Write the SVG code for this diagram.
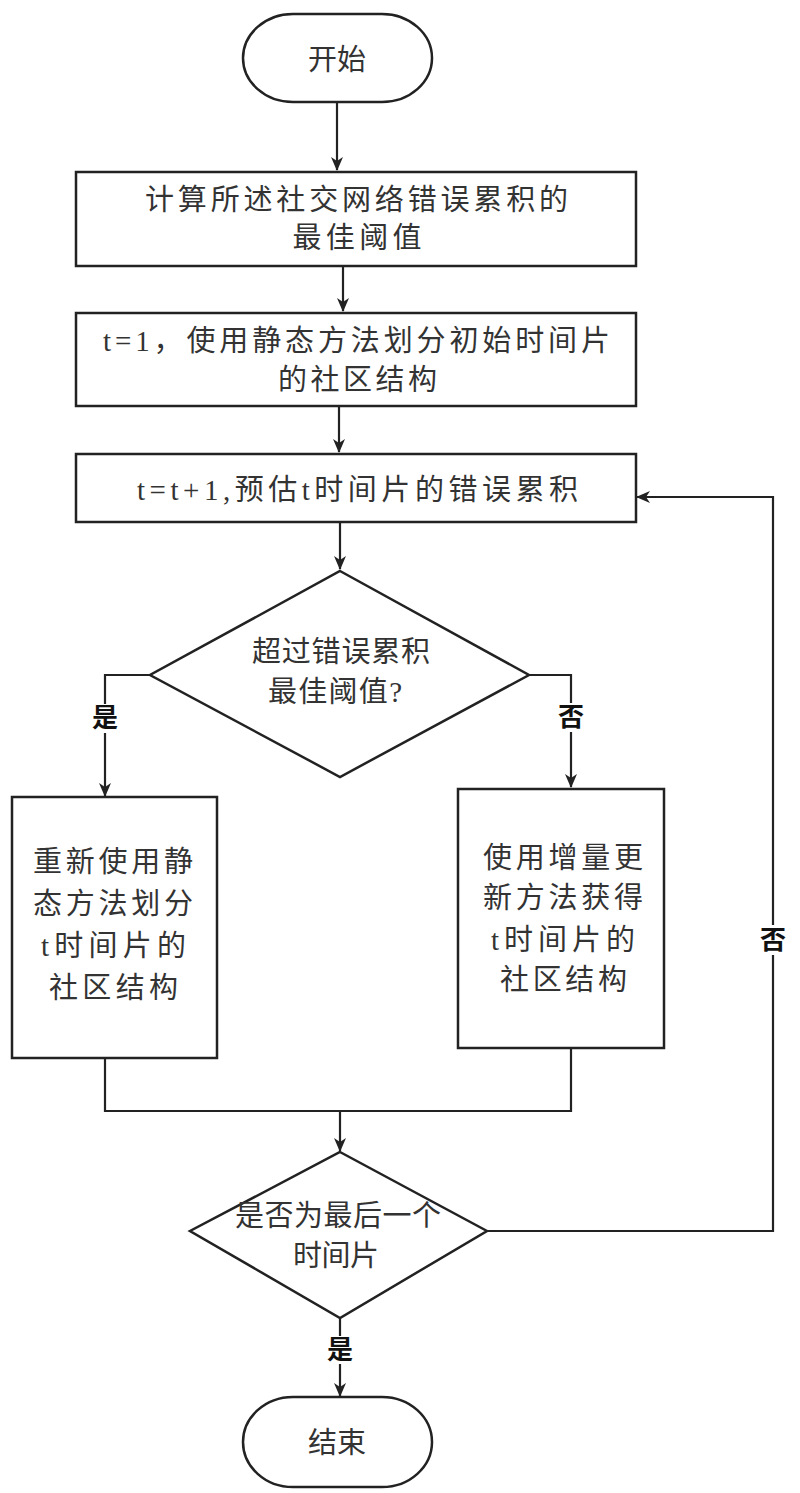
<svg xmlns="http://www.w3.org/2000/svg" width="800" height="1493" viewBox="0 0 800 1493">
<defs>
<style>
.s{fill:#fff;stroke:#222;stroke-width:2.5}
.c{fill:none;stroke:#222;stroke-width:2.2}
.t{font-family:"Liberation Serif","Noto Sans CJK SC",serif;font-size:29px;fill:#333;text-anchor:middle;dominant-baseline:central}
.l{font-family:"Liberation Serif","Noto Sans CJK SC",serif;font-size:26px;font-weight:bold;fill:#111;text-anchor:middle;dominant-baseline:central}
</style>
<marker id="a" markerUnits="userSpaceOnUse" markerWidth="14" markerHeight="12" refX="13" refY="6" orient="auto">
<path d="M0,0 L14,6 L0,12 L4,6 z" fill="#222"/>
</marker>
</defs>
<rect width="800" height="1493" fill="#fff"/>
<g id="connectors">
<path class="c" d="M337,102 V170" marker-end="url(#a)"/>
<path class="c" d="M343,266 V311" marker-end="url(#a)"/>
<path class="c" d="M339,406 V452" marker-end="url(#a)"/>
<path class="c" d="M340,522 V569" marker-end="url(#a)"/>
<path class="c" d="M150,675 H105 V704"/>
<path class="c" d="M105,733 V796" marker-end="url(#a)"/>
<path class="c" d="M529,675 H571 V703"/>
<path class="c" d="M571,732 V787" marker-end="url(#a)"/>
<path class="c" d="M105,1058 V1111 H571 V1048"/>
<path class="c" d="M340,1111 V1151" marker-end="url(#a)"/>
<path class="c" d="M487,1231 H773 V955"/>
<path class="c" d="M773,925 V497 H637" marker-end="url(#a)"/>
<path class="c" d="M340,1318 V1336"/>
<path class="c" d="M340,1364 V1396" marker-end="url(#a)"/>
</g>
<g id="start">
<rect class="s" x="243" y="14" width="189" height="88" rx="50" ry="44"/>
<text class="t" x="337" y="60" font-size="30">开始</text>
</g>
<g id="box1">
<rect class="s" x="76" y="172" width="560" height="94"/>
<text class="t" x="356.5" y="200" textLength="423" lengthAdjust="spacing">计算所述社交网络错误累积的</text>
<text class="t" x="357" y="238" textLength="129" lengthAdjust="spacing">最佳阈值</text>
</g>
<g id="box2">
<rect class="s" x="76" y="313" width="560" height="93"/>
<text class="t" x="356.5" y="341" textLength="507" lengthAdjust="spacing">t=1，使用静态方法划分初始时间片</text>
<text class="t" x="357.5" y="380" textLength="159" lengthAdjust="spacing">的社区结构</text>
</g>
<g id="box3">
<rect class="s" x="76" y="454" width="560" height="68"/>
<text class="t" x="357.5" y="490" textLength="441" lengthAdjust="spacing">t=t+1,预估t时间片的错误累积</text>
</g>
<g id="decision1">
<polygon class="s" points="340,571 529,675 340,777 150,675"/>
<text class="t" x="341" y="652" textLength="178" lengthAdjust="spacing">超过错误累积</text>
<text class="t" x="335" y="692" textLength="134" lengthAdjust="spacing">最佳阈值?</text>
</g>
<g id="label-yes1"><text class="l" x="105" y="718">是</text></g>
<g id="label-no1"><text class="l" x="571" y="717">否</text></g>
<g id="box-left">
<rect class="s" x="12" y="797" width="205" height="261"/>
<text class="t" x="113" y="862" textLength="160" lengthAdjust="spacing">重新使用静</text>
<text class="t" x="113" y="904" textLength="160" lengthAdjust="spacing">态方法划分</text>
<text class="t" x="113.5" y="946" textLength="145" lengthAdjust="spacing">t时间片的</text>
<text class="t" x="113.5" y="988" textLength="129" lengthAdjust="spacing">社区结构</text>
</g>
<g id="box-right">
<rect class="s" x="458" y="789" width="206" height="259"/>
<text class="t" x="563" y="858" textLength="160" lengthAdjust="spacing">使用增量更</text>
<text class="t" x="563" y="898" textLength="160" lengthAdjust="spacing">新方法获得</text>
<text class="t" x="563" y="940" textLength="144" lengthAdjust="spacing">t时间片的</text>
<text class="t" x="563.5" y="980" textLength="127" lengthAdjust="spacing">社区结构</text>
</g>
<g id="decision2">
<polygon class="s" points="340,1152 487,1231 340,1318 190,1231"/>
<text class="t" x="338" y="1216" textLength="206" lengthAdjust="spacing">是否为最后一个</text>
<text class="t" x="336" y="1256" textLength="86" lengthAdjust="spacing">时间片</text>
</g>
<g id="label-no2"><text class="l" x="773" y="940">否</text></g>
<g id="label-yes2"><text class="l" x="340" y="1350">是</text></g>
<g id="end">
<rect class="s" x="243" y="1397" width="189" height="90" rx="50" ry="45"/>
<text class="t" x="337" y="1443" font-size="30">结束</text>
</g>
</svg>
